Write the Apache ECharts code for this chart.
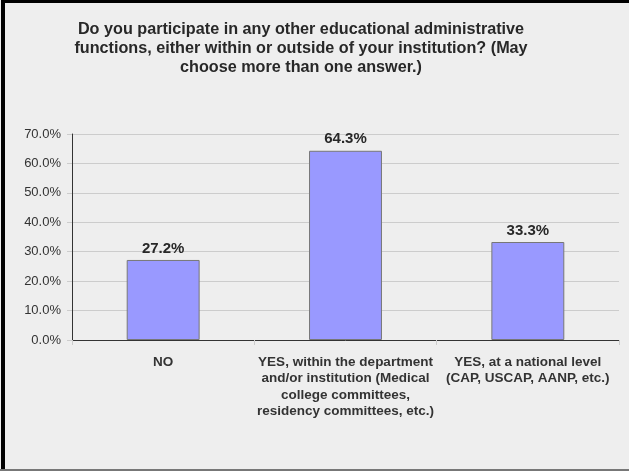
<!DOCTYPE html>
<html><head><meta charset="utf-8">
<script src="https://cdn.jsdelivr.net/npm/echarts@6/dist/echarts.min.js"></script>
<style>html,body{margin:0;padding:0;background:#eeeeee;}#c{width:629px;height:471px;}</style>
</head><body><div id="c"></div>
<script>
var titleText = "Do you participate in any other educational administrative\nfunctions, either within or outside of your institution? (May\nchoose more than one answer.)";
var categories = ["NO", "YES, within the department\nand/or institution (Medical\ncollege committees,\nresidency committees, etc.)", "YES, at a national level\n(CAP, USCAP, AANP, etc.)"];
var values = [27.2, 64.3, 33.3];
var yTicks = [0, 10, 20, 30, 40, 50, 60, 70];

var chart = echarts.init(document.getElementById('c'), null, {renderer: 'canvas'});
var FONT = 'Liberation Sans, Arial, sans-serif';
chart.setOption({
  backgroundColor: '#eeeeee',
  animation: false,
  title: {
    text: titleText,
    left: 296, top: 15, textAlign: 'center',
    textStyle: {fontFamily: FONT, fontSize: 16.2, fontWeight: 'bold', color: '#282828', lineHeight: 19}
  },
  grid: {left: 72, right: 10, top: 134, bottom: 131},
  xAxis: {
    type: 'category', data: categories,
    axisLine: {lineStyle: {color: '#333', width: 1}},
    axisTick: {show: true, length: 5, lineStyle: {color: '#ccc'}},
    axisLabel: {interval: 0, margin: 14, fontFamily: FONT, fontSize: 13.5, fontWeight: 'bold', color: '#333', lineHeight: 16.5, align: 'center'}
  },
  yAxis: {
    type: 'value', min: yTicks[0], max: yTicks[yTicks.length - 1], interval: 10,
    axisLine: {show: true, lineStyle: {color: '#333', width: 1}},
    axisTick: {show: true, length: 5, lineStyle: {color: '#ccc'}},
    splitLine: {lineStyle: {color: '#cccccc', width: 1}},
    axisLabel: {margin: 11, fontFamily: FONT, fontSize: 13, color: '#333', formatter: function(v){return v.toFixed(1) + '%';}}
  },
  series: [{
    type: 'bar', data: values, barWidth: '40%',
    itemStyle: {color: '#9999ff', borderColor: '#777777', borderWidth: 1},
    label: {show: true, position: 'top', distance: 4, fontFamily: FONT, fontSize: 15, fontWeight: 'bold', color: '#282828', formatter: function(p){return p.value.toFixed(1) + '%';}}
  }],
  graphic: [
    {type: 'rect', shape: {x: 1, y: 0, width: 4, height: 471}, style: {fill: '#000'}},
    {type: 'rect', shape: {x: 1, y: 0, width: 628, height: 3}, style: {fill: '#000'}},
    {type: 'rect', shape: {x: 0, y: 469, width: 629, height: 2}, style: {fill: '#777'}}
  ]
});
</script></body></html>
